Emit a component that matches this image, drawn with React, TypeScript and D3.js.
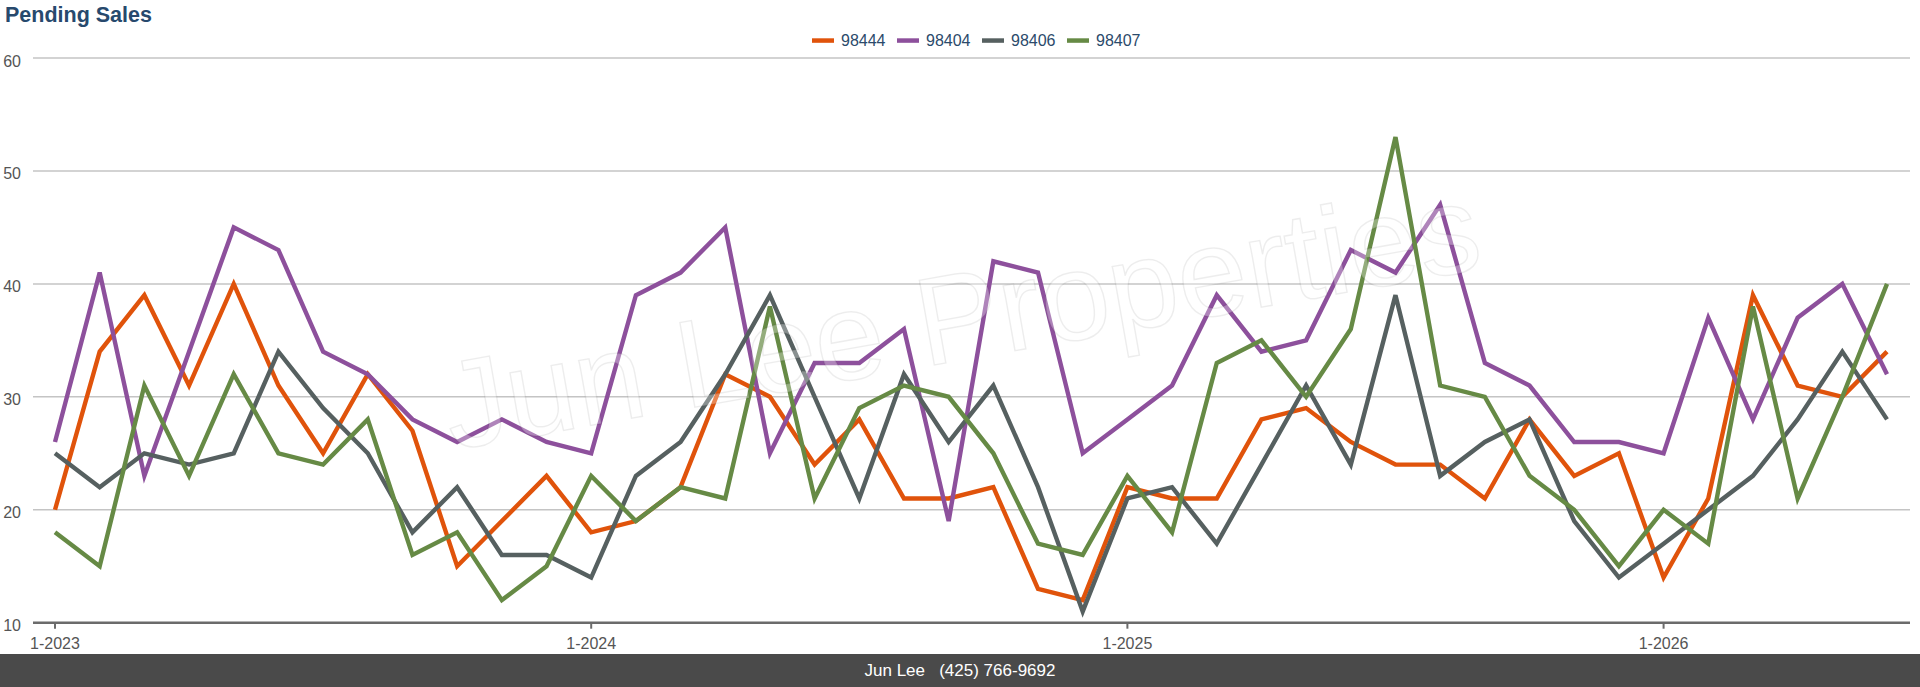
import React from 'react';
import * as d3 from 'd3';

// Pending sales per month, Jan 2023 .. Jun 2026
const years = [2023, 2024, 2025, 2026];
const lastMonth = 6; // data runs through June 2026
const months: string[] = years.flatMap(y =>
  d3.range(1, 13).map(m => `${m}-${y}`)
).slice(0, (years.length - 1) * 12 + lastMonth);

const zip98444 = [20, 34, 39, 31, 40, 31, 25, 32, 27, 15, 19, 23, 18, 19, 22, 32, 30, 24, 28, 21, 21, 22, 13, 12, 22, 21, 21, 28, 29, 26, 24, 24, 21, 28, 23, 25, 14, 21, 39, 31, 30, 34];
const zip98404 = [26, 41, 23, 34, 45, 43, 34, 32, 28, 26, 28, 26, 25, 39, 41, 45, 25, 33, 33, 36, 19, 42, 41, 25, 28, 31, 39, 34, 35, 43, 41, 47, 33, 31, 26, 26, 25, 37, 28, 37, 40, 32];
const zip98406 = [25, 22, 25, 24, 25, 34, 29, 25, 18, 22, 16, 16, 14, 23, 26, 32, 39, 30, 21, 32, 26, 31, 22, 11, 21, 22, 17, 24, 31, 24, 39, 23, 26, 28, 19, 14, 17, 20, 23, 28, 34, 28];
const zip98407 = [18, 15, 31, 23, 32, 25, 24, 28, 16, 18, 12, 15, 23, 19, 22, 21, 38, 21, 29, 31, 30, 25, 17, 16, 23, 18, 33, 35, 30, 36, 53, 31, 30, 23, 20, 15, 20, 17, 38, 21, 30, 40];

const seriesNames = ['98444', '98404', '98406', '98407'];
const seriesValues = [zip98444, zip98404, zip98406, zip98407];
const seriesColors = ['#e0530b', '#8d509c', '#566060', '#668a45'];

const yTicks = [10, 20, 30, 40, 50, 60];
const xTickLabels = years.map(y => `1-${y}`);

const W = 1920;
const H = 687;
const FONT = '"Liberation Sans", Arial, Helvetica, sans-serif';

const App: React.FC = () => {
  const x = d3.scalePoint<string>()
    .domain(months)
    .range([55, 1887]);

  const y = d3.scaleLinear()
    .domain([10, 60])
    .range([622.7, 58]);

  const line = d3.line<number>()
    .x((_, i) => x(months[i]) as number)
    .y(d => y(d));

  const gridLeft = 33;
  const gridRight = 1910;

  return (
    <div style={{ position: 'absolute', left: 0, top: 0 }}>
      <svg width={W} height={H} style={{ display: 'block', fontFamily: FONT }}>
        <rect width={W} height={H} fill="#ffffff" />

        <text x={5} y={22} fontSize={21.5} fontWeight="bold" fill="#27496d">Pending Sales</text>

        {/* legend */}
        <g>
          {seriesNames.map((name, i) => (
            <g key={name} transform={`translate(${812 + i * 85},0)`}>
              <rect x={0} y={38.3} width={22} height={4.5} fill={seriesColors[i]} />
              <text x={29} y={45.7} fontSize={16} fill="#2b4a6b">{name}</text>
            </g>
          ))}
        </g>

        {/* grid + y labels */}
        {yTicks.map(t => (
          <g key={t}>
            {t !== 10 && (
              <line x1={gridLeft} x2={gridRight} y1={y(t)} y2={y(t)} stroke="#c4c4c4" strokeWidth={1.5} />
            )}
            <text x={21} y={y(t) + 8.5} fontSize={16} fill="#555555" textAnchor="end">{t}</text>
          </g>
        ))}

        {/* series */}
        {seriesValues.map((vals, i) => (
          <path key={seriesNames[i]} d={line(vals) || ''} fill="none" stroke={seriesColors[i]} strokeWidth={4.4} />
        ))}

        {/* watermark */}
        <text
          transform="translate(452,450) rotate(-10)"
          fontSize={125}
          fill="#ffffff"
          fillOpacity={0.3}
          stroke="#000000"
          strokeOpacity={0.07}
          strokeWidth={1.5}
        >Jun Lee Properties</text>

        {/* x axis */}
        <line x1={gridLeft} x2={gridRight} y1={y(10)} y2={y(10)} stroke="#6b6b6b" strokeWidth={2.5} />
        {xTickLabels.map(lbl => (
          <g key={lbl} transform={`translate(${x(lbl)},0)`}>
            <line x1={0} x2={0} y1={y(10)} y2={y(10) + 6} stroke="#6b6b6b" strokeWidth={2} />
            <text y={649} fontSize={16} fill="#555555" textAnchor="middle">{lbl}</text>
          </g>
        ))}

        {/* footer */}
        <rect x={0} y={654} width={W} height={H - 654} fill="#4a4a4a" />
        <text x={960} y={676} fontSize={17} fill="#ffffff" textAnchor="middle" style={{ whiteSpace: 'pre' }}>
          {'Jun Lee   (425) 766-9692'}
        </text>
      </svg>
    </div>
  );
};

export default App;
